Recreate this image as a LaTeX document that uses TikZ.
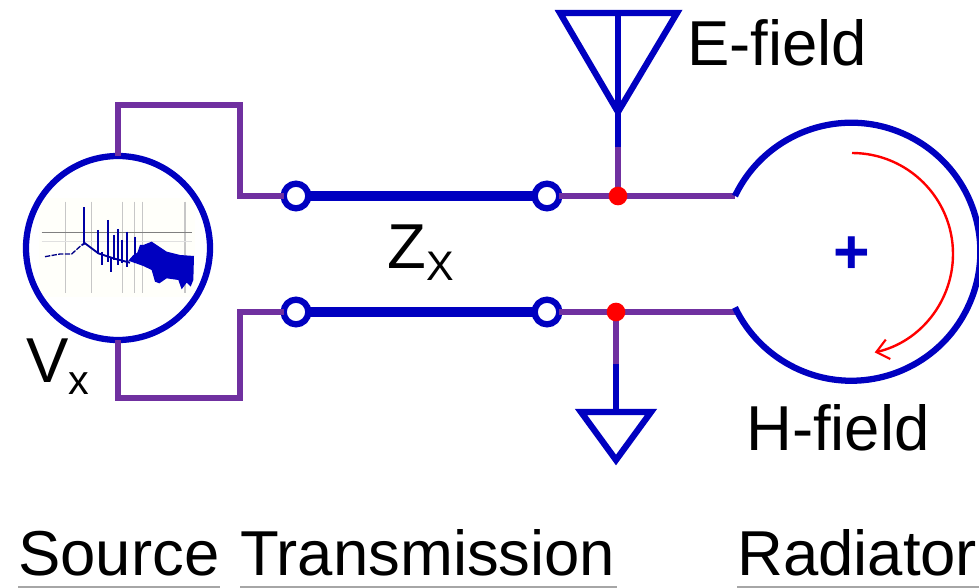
\documentclass[tikz,border=0pt]{standalone}
\usepackage{fontspec}
\setmainfont{Liberation Sans}
\usetikzlibrary{arrows.meta}
\definecolor{wireblue}{HTML}{0000C0}
\definecolor{wirepurple}{HTML}{7030A0}
\tikzset{
  blueline/.style={draw=wireblue,line width=4.7pt,line join=miter},
  purpleline/.style={draw=wirepurple,line width=3.8pt},
  biglabel/.style={inner sep=0pt,anchor=base west,font=\fontsize{47.6}{50}\selectfont},
  underrule/.style={draw=black!35,line width=1.5pt}
}
\begin{document}
\begin{tikzpicture}[x=0.75pt,y=-0.75pt]
        \useasboundingbox (0,0) rectangle (979,588);

        % spectrum inset, in the 3x crop coordinates
        \begin{scope}[shift={(0,130)},x=0.25pt,y=-0.25pt]
          \fill[yellow!2!white] (118,205) rectangle (585,500);
          \foreach \gridx in {197,275,367,403,428,555} {
            \draw[black!22,line width=1.1pt] (\gridx,215) -- (\gridx,490);
          }
          \draw[black!50,line width=1pt] (125,307) -- (575,307);
          \draw[black!12,line width=1pt] (125,335) -- (575,335);
          \draw[wireblue!70!black,line width=1pt,dash pattern=on 4pt off 1pt] (135,380) -- (180,372) -- (215,372) -- (245,345);
          \draw[wireblue!80!black,line width=1.4pt] (245,345) -- (255,340) -- (295,370) -- (340,385) -- (390,398);
          \foreach \spx/\sptop/\spbot in {252/232/340,295/300/372,306/365/405,325/270/395,333/380/425,343/315/390,355/297/405,367/330/400,380/305/410,405/320/400} {
            \draw[wireblue!85!black,line width=1.3pt] (\spx,\sptop) -- (\spx,\spbot);
          }
          \fill[wireblue] (385,392) -- (400,375) -- (412,368) -- (420,345) -- (430,345) -- (455,335) -- (470,345)
            -- (500,365) -- (540,375) -- (582,378) -- (580,450) -- (572,470) -- (560,458) -- (545,478) -- (535,450)
            -- (500,445) -- (478,460) -- (465,455) -- (455,420) -- (430,408) -- cycle;
        \end{scope}

        \begin{scope}[every node/.style={circle,draw=wireblue,line width=4.7pt,inner sep=0pt,outer sep=0pt}]
          \node[minimum size=138pt] (source) at (118,248) {};
          \node[minimum size=18.5pt] (termA) at (296,196) {};
          \node[minimum size=18.5pt] (termB) at (547,196) {};
          \node[minimum size=18.5pt] (termC) at (296,312) {};
          \node[minimum size=18.5pt] (termD) at (547,312) {};
        \end{scope}

        \coordinate (upA)    at (118,105);
        \coordinate (upB)    at (240,105);
        \coordinate (upC)    at (240,196);
        \coordinate (downA)  at (118,398);
        \coordinate (downB)  at (240,398);
        \coordinate (downC)  at (240,312);
        \coordinate (jointE) at (618,196);
        \coordinate (jointH) at (616,312);
        \coordinate (loopE)  at (735,196);
        \coordinate (loopH)  at (735,312);
        \coordinate (antTip) at (618,112);
        \coordinate (antTop) at (618,13);
        \coordinate (antL)   at (560,13);
        \coordinate (antR)   at (677,13);
        \coordinate (antJoin) at (618,147);
        \coordinate (gndJoin) at (616,364);
        \coordinate (gndTop) at (616,412);
        \coordinate (gndL)   at (581,412);
        \coordinate (gndR)   at (651,412);
        \coordinate (gndTip) at (616,460);

        \draw[purpleline] (source.north) -- (upA) -- (upB) -- (upC) -- (termA.west);
        \draw[purpleline] (source.south) -- (downA) -- (downB) -- (downC) -- (termC.west);
        \draw[purpleline] (termB.east) -- (jointE) -- (loopE);
        \draw[purpleline] (termD.east) -- (jointH) -- (loopH);
        \draw[purpleline] (antJoin) -- (jointE);
        \draw[purpleline] (jointH) -- (gndJoin);

        \begin{scope}[every node/.style={circle,fill=red,inner sep=0pt,minimum size=14pt}]
          \node (dotE) at (jointE) {};
          \node (dotH) at (jointH) {};
        \end{scope}

        \draw[draw=wireblue,line width=7pt] (termA.east) -- (termB.west);
        \draw[draw=wireblue,line width=7pt] (termC.east) -- (termD.west);

        \draw[blueline] (antTop) -- (antJoin);
        \draw[blueline] (antL) -- (antR) -- (antTip) -- cycle;
        \draw[blueline] (gndJoin) -- (gndTop);
        \draw[blueline] (gndL) -- (gndR) -- (gndTip) -- cycle;
        \draw[blueline] (loopE) arc[start angle=154.4,end angle=-154.4,radius=129*0.75pt];

        \draw[red,line width=1.8pt,-{Straight Barb[length=9pt,width=15pt,line width=1.6pt]}]
          (852,153) arc[start angle=90,end angle=-77,radius=101*0.75pt];

        \node[inner sep=0pt,text=wireblue,font=\bfseries\fontsize{47}{47}\selectfont] (plus) at (852,255) {+};

        \node[biglabel] (efield) at (687,66) {E-field};
        \node[biglabel] (hfield) at (746,450) {H-field};
        \node[biglabel] (vlabel) at (26,382) {V\raisebox{-0.2em}{\fontsize{31}{31}\selectfont x}};
        \node[biglabel] (zlabel) at (387,268) {Z\raisebox{-0.2em}{\fontsize{31}{31}\selectfont X}};
        \node[biglabel] (source label) at (18,575) {Source};
        \node[biglabel] (trans label) at (240,575) {Transmission};
        \node[biglabel] (rad label) at (737,575) {Radiator};

        \coordinate (ruleA) at (18,587);
        \coordinate (ruleB) at (220,587);
        \coordinate (ruleC) at (240,587);
        \coordinate (ruleD) at (617,587);
        \coordinate (ruleE) at (737,587);
        \coordinate (ruleF) at (979,587);
        \draw[underrule] (ruleA) -- (ruleB);
        \draw[underrule] (ruleC) -- (ruleD);
        \draw[underrule] (ruleE) -- (ruleF);

\end{tikzpicture}
\end{document}
